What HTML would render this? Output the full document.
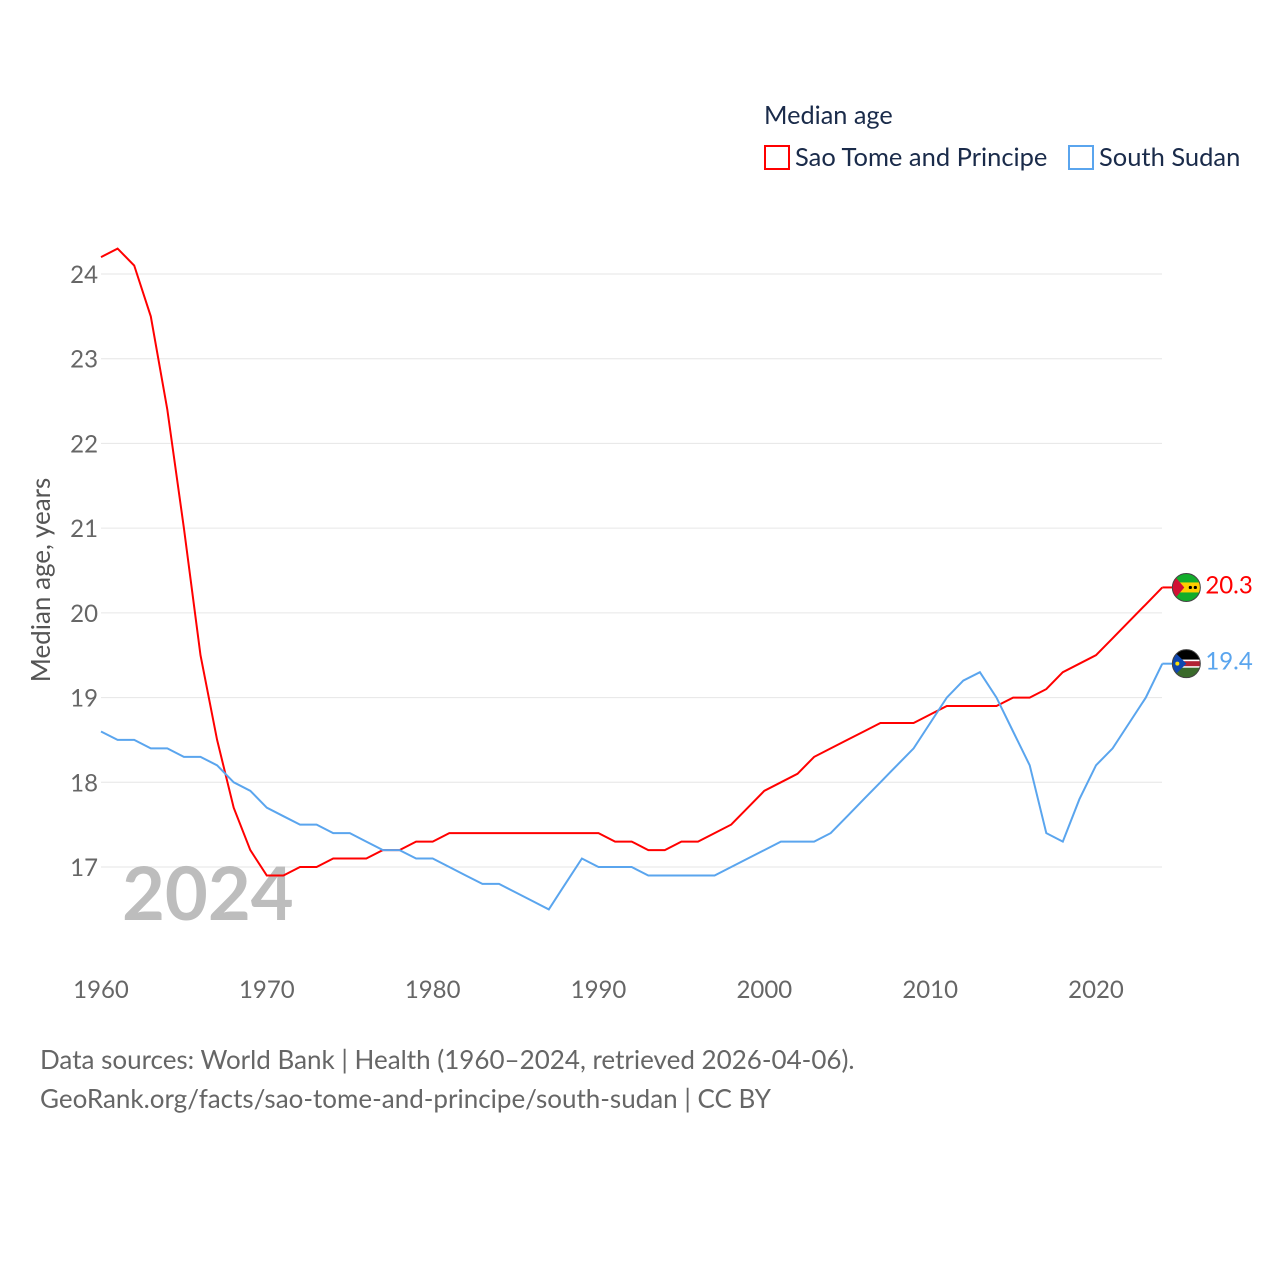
<!DOCTYPE html>
<html><head><meta charset="utf-8"><style>
body{margin:0;background:#fff;width:1280px;height:1280px;overflow:hidden;font-family:"Liberation Sans",sans-serif}
</style></head><body>
<svg id="chart" width="1280" height="1280" xmlns="http://www.w3.org/2000/svg" font-family="Lato, 'Liberation Sans', sans-serif">
<defs>
<clipPath id="c1"><circle cx="0" cy="0" r="14"/></clipPath>
</defs>
<g id="grid"></g>
<g id="axes"></g>
<text x="122" y="920" font-size="74" font-weight="bold" fill="#bdbdbd">2024</text>
<g id="series"></g>
<text transform="translate(50,580) rotate(-90)" text-anchor="middle" font-size="26" fill="#555">Median age, years</text>
<g>
<text x="764" y="124" font-size="25.3" fill="#1a2b4a">Median age</text>
<g><rect x="765" y="146" width="24" height="23" fill="none" stroke="#ff0000" stroke-width="2"/><text x="795" y="166" font-size="25.5" fill="#1a2b4a">Sao Tome and Principe</text></g>
<g><rect x="1069" y="146" width="24" height="23" fill="none" stroke="#5aa5ee" stroke-width="2"/><text x="1099" y="166" font-size="25.5" fill="#1a2b4a">South Sudan</text></g>
</g>
<text x="40" y="1069" font-size="26" fill="#666">Data sources: World Bank | Health (1960–2024, retrieved 2026-04-06).</text>
<text x="40" y="1108" font-size="26" fill="#666">GeoRank.org/facts/sao-tome-and-principe/south-sudan | CC BY</text>
</svg>
<script>
const years=[];for(let y=1960;y<=2024;y++)years.push(y);
const stpValues=[24.2,24.3,24.1,23.5,22.4,21.0,19.5,18.5,17.7,17.2,16.9,16.9,17.0,17.0,17.1,17.1,17.1,17.2,17.2,17.3,17.3,17.4,17.4,17.4,17.4,17.4,17.4,17.4,17.4,17.4,17.4,17.3,17.3,17.2,17.2,17.3,17.3,17.4,17.5,17.7,17.9,18.0,18.1,18.3,18.4,18.5,18.6,18.7,18.7,18.7,18.8,18.9,18.9,18.9,18.9,19.0,19.0,19.1,19.3,19.4,19.5,19.7,19.9,20.1,20.3];
const ssdValues=[18.6,18.5,18.5,18.4,18.4,18.3,18.3,18.2,18.0,17.9,17.7,17.6,17.5,17.5,17.4,17.4,17.3,17.2,17.2,17.1,17.1,17.0,16.9,16.8,16.8,16.7,16.6,16.5,16.8,17.1,17.0,17.0,17.0,16.9,16.9,16.9,16.9,16.9,17.0,17.1,17.2,17.3,17.3,17.3,17.4,17.6,17.8,18.0,18.2,18.4,18.7,19.0,19.2,19.3,19.0,18.6,18.2,17.4,17.3,17.8,18.2,18.4,18.7,19.0,19.4];
const yTicks=[17,18,19,20,21,22,23,24];
const xTicks=[1960,1970,1980,1990,2000,2010,2020];
const NS="http://www.w3.org/2000/svg";
const xs=y=>101+(y-1960)*(1096-101)/60;
const ys=v=>867-(v-17)*(867-274)/7;
function mk(t,a,p){const e=document.createElementNS(NS,t);for(const k in a)e.setAttribute(k,a[k]);p.appendChild(e);return e;}
const grid=document.getElementById('grid'),axes=document.getElementById('axes'),ser=document.getElementById('series');
yTicks.forEach(v=>{
 const l=mk('line',{x1:101,x2:1162,y1:ys(v),y2:ys(v),stroke:'#e6e6e6','stroke-width':1},grid);
 
 
 const t=mk('text',{x:98,y:ys(v)+9,'text-anchor':'end','font-size':24,fill:'#666'},axes);t.textContent=v;
 
 
});
xTicks.forEach(v=>{
 const t=mk('text',{x:xs(v),y:998,'text-anchor':'middle','font-size':24,fill:'#666'},axes);t.textContent=v;
 
 
});
function flag(g,kind){
 if(kind==='stp'){
  mk('rect',{x:-14,y:-14,width:28,height:28,fill:'#12ad2b'},g);
  mk('rect',{x:-14,y:-5,width:28,height:10,fill:'#ffce00'},g);
  mk('polygon',{points:'-14,-14 -2,0 -14,14',fill:'#d21034'},g);
  mk('circle',{cx:4,cy:0,r:1.6,fill:'#000'},g);mk('circle',{cx:9,cy:0,r:1.6,fill:'#000'},g);
 } else {
  mk('rect',{x:-14,y:-14,width:28,height:10,fill:'#000'},g);
  mk('rect',{x:-14,y:-4,width:28,height:8,fill:'#fff'},g);
  mk('rect',{x:-14,y:-2.5,width:28,height:5,fill:'#b22234'},g);
  mk('rect',{x:-14,y:4,width:28,height:10,fill:'#3a6a2a'},g);
  mk('polygon',{points:'-14,-14 0,0 -14,14',fill:'#0f47af'},g);
  mk('circle',{cx:-9,cy:0,r:2,fill:'#fcdd09'},g);
 }
}
function line(vals,color,name,kind){
 const d=vals.map((v,i)=>(i?'L':'M')+xs(years[i]).toFixed(1)+','+ys(v).toFixed(1)).join('');
 const p=mk('path',{d:d,fill:'none',stroke:color,'stroke-width':2},ser);
 
 
 const last=vals[vals.length-1],lx=xs(years[years.length-1]),ly=ys(last);
 mk('line',{x1:lx,x2:lx+14,y1:ly,y2:ly,stroke:color,'stroke-width':2},ser);
 const g=mk('g',{transform:'translate('+(lx+24)+','+ly+')'},ser);
 
 
 const inner=mk('g',{'clip-path':'url(#c1)'},g);
 flag(inner,kind);
 mk('circle',{cx:0,cy:0,r:14,fill:'none',stroke:'#444','stroke-width':1},g);
 const t=mk('text',{x:lx+43,y:ly+6,'font-size':24,fill:color},ser);t.textContent=last.toFixed(1);
 
 
}
line(stpValues,'#ff0000','sao-tome','stp');
line(ssdValues,'#5aa5ee','south-sudan','ssd');
</script>
</body></html>
